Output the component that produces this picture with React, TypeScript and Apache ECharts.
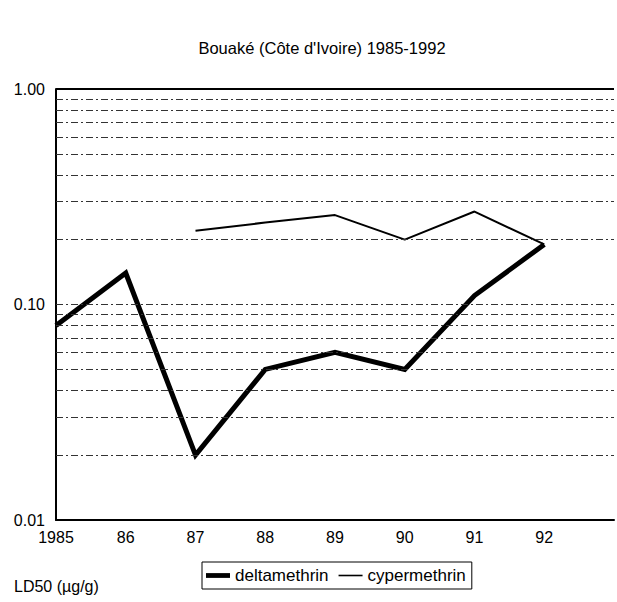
import React, { useEffect, useRef } from "react";
import * as echarts from "echarts";

const years = [1985, 1986, 1987, 1988, 1989, 1990, 1991, 1992];
const deltamethrin = [0.08, 0.14, 0.02, 0.05, 0.06, 0.05, 0.11, 0.19];
const cypermethrin = [null, null, 0.22, 0.24, 0.26, 0.2, 0.27, 0.19];
const minorGridValues = [0.02, 0.03, 0.04, 0.05, 0.06, 0.07, 0.08, 0.09, 0.1, 0.2, 0.3, 0.4, 0.5, 0.6, 0.7, 0.8, 0.9];
const topLineValue = [1.0];
const titleText = "Bouaké (Côte d'Ivoire) 1985-1992";
const unitText = "LD50 (µg/g)";

const FONT = "'Liberation Sans', Arial, sans-serif";

export default function App() {
  const ref = useRef<HTMLDivElement>(null);
  useEffect(() => {
    if (!ref.current) return;
    const chart = echarts.init(ref.current, null, { renderer: "svg" });
    const pairs = (vals: (number | null)[]) =>
      years.map((y, i) => [y, vals[i]]).filter((p) => p[1] !== null);
    chart.setOption({
      animation: false,
      backgroundColor: "#fff",
      textStyle: { fontFamily: FONT, color: "#000" },
      grid: { left: 56, top: 89, width: 565, height: 431, containLabel: false },
      xAxis: {
        type: "value",
        min: 1985,
        max: 1993,
        interval: 1,
        axisLine: { show: true, lineStyle: { color: "#000", width: 2 } },
        axisTick: { show: false },
        splitLine: { show: false },
        axisLabel: {
          fontSize: 16,
          color: "#000",
          fontFamily: FONT,
          margin: 9,
          formatter: (v: number) => (v === 1985 ? "1985" : v > 1992 ? "" : String(v).slice(2)),
        },
      },
      yAxis: {
        type: "log",
        logBase: 10,
        min: 0.01,
        max: 1,
        axisLine: { show: true, lineStyle: { color: "#000", width: 2 } },
        axisTick: { show: false },
        splitLine: { show: false },
        axisLabel: {
          fontSize: 16,
          color: "#000",
          fontFamily: FONT,
          margin: 11,
          formatter: (v: number) => v.toFixed(2),
        },
      },
      legend: {
        left: 202,
        top: 562,
        data: [
          { name: "deltamethrin", icon: "path://M0,0H30V6H0Z" },
          { name: "cypermethrin", icon: "path://M0,0H30V2H0Z" },
        ],
        itemWidth: 24,
        itemHeight: 12,
        itemGap: 10,
        borderColor: "#000",
        borderWidth: 1,
        borderRadius: 0,
        padding: [5, 6, 5, 4],
        textStyle: { fontSize: 17, color: "#000", fontFamily: FONT },
      },
      graphic: [
        {
          type: "text",
          x: 322,
          y: 48,
          style: {
            text: titleText,
            fontSize: 16.5,
            fontFamily: FONT,
            fill: "#000",
            textAlign: "center",
            textVerticalAlign: "middle",
          },
        },
        {
          type: "text",
          x: 14,
          y: 586,
          style: {
            text: unitText,
            fontSize: 16,
            fontFamily: FONT,
            fill: "#000",
            textAlign: "left",
            textVerticalAlign: "middle",
          },
        },
      ],
      series: [
        {
          name: "gridlines",
          type: "line",
          data: [],
          silent: true,
          z: 1,
          markLine: {
            silent: true,
            symbol: "none",
            label: { show: false },
            data: [
              ...minorGridValues.map((v) => ({
                yAxis: v,
                lineStyle: { color: "#333", width: 1, type: [7, 3, 2, 3] },
              })),
              ...topLineValue.map((v) => ({
                yAxis: v,
                lineStyle: { color: "#000", width: 2, type: "solid" },
              })),
            ],
          },
        },
        {
          name: "deltamethrin",
          type: "line",
          data: pairs(deltamethrin),
          symbol: "none",
          z: 3,
          lineStyle: { color: "#000", width: 5, join: "miter" },
          itemStyle: { color: "#000" },
        },
        {
          name: "cypermethrin",
          type: "line",
          data: pairs(cypermethrin),
          symbol: "none",
          z: 3,
          lineStyle: { color: "#000", width: 2 },
          itemStyle: { color: "#000" },
        },
      ],
    });
    return () => chart.dispose();
  }, []);
  return (
    <div
      ref={ref}
      style={{ position: "fixed", left: 0, top: 0, width: 617, height: 602, background: "#fff" }}
    />
  );
}
